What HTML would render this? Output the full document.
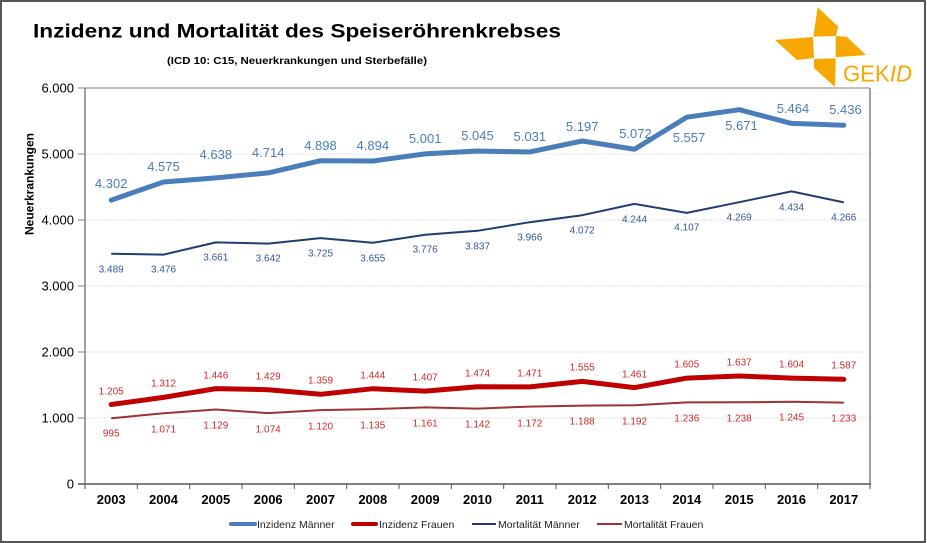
<!DOCTYPE html>
<html><head><meta charset="utf-8"><style>
html,body{margin:0;padding:0;background:#fff;}
svg{display:block;font-family:"Liberation Sans",Arial,sans-serif;}
</style></head><body>
<svg width="927" height="543" viewBox="0 0 927 543" xmlns="http://www.w3.org/2000/svg">
<rect x="0" y="0" width="927" height="543" fill="#fff"/>
<rect x="1" y="1" width="924" height="541" fill="none" stroke="#555" stroke-width="2"/>

<!-- Title -->
<text x="33" y="37.5" font-size="19.5" font-weight="bold" fill="#000" textLength="528" lengthAdjust="spacingAndGlyphs">Inzidenz und Mortalität des Speiseröhrenkrebses</text>
<text x="167" y="64" font-size="10.5" font-weight="bold" fill="#000" textLength="260" lengthAdjust="spacingAndGlyphs">(ICD 10: C15, Neuerkrankungen und Sterbefälle)</text>

<!-- Logo -->
<g fill="#f7a800">
<polygon points="817.7,7.3 838.3,26.7 835.7,36 813.3,36.7"/>
<polygon points="775,40 813,37 814,58 797,60"/>
<polygon points="835.7,36 846.7,36.7 866,55 835.7,57.3"/>
<polygon points="814,59 835.7,58.3 835,87 814,68"/>
</g>
<text x="843" y="81.7" font-size="23" fill="#f7a800" textLength="69" lengthAdjust="spacingAndGlyphs">GEK<tspan font-style="italic">ID</tspan></text>

<!-- Gridlines -->
<g stroke="#e2e2e2" stroke-width="1" stroke-dasharray="2,1">
<line x1="86" y1="154" x2="870" y2="154"/>
<line x1="86" y1="220" x2="870" y2="220"/>
<line x1="86" y1="286" x2="870" y2="286"/>
<line x1="86" y1="352" x2="870" y2="352"/>
<line x1="86" y1="418" x2="870" y2="418"/>
</g>
<!-- plot border -->
<line x1="85" y1="88" x2="870" y2="88" stroke="#808080" stroke-width="1"/>
<line x1="870" y1="88" x2="870" y2="484" stroke="#808080" stroke-width="1.5"/>
<line x1="85" y1="88" x2="85" y2="484" stroke="#808080" stroke-width="1.5"/>
<line x1="78" y1="484" x2="871" y2="484" stroke="#555" stroke-width="1.5"/>
<!-- y ticks -->
<g stroke="#808080" stroke-width="1">
<line x1="78" y1="88" x2="85" y2="88"/>
<line x1="78" y1="154" x2="85" y2="154"/>
<line x1="78" y1="220" x2="85" y2="220"/>
<line x1="78" y1="286" x2="85" y2="286"/>
<line x1="78" y1="352" x2="85" y2="352"/>
<line x1="78" y1="418" x2="85" y2="418"/>
</g>
<!-- x ticks -->
<g stroke="#555" stroke-width="1">
<line x1="85" y1="484" x2="85" y2="489"/>
<line x1="137.3" y1="484" x2="137.3" y2="489"/>
<line x1="189.7" y1="484" x2="189.7" y2="489"/>
<line x1="242" y1="484" x2="242" y2="489"/>
<line x1="294.3" y1="484" x2="294.3" y2="489"/>
<line x1="346.7" y1="484" x2="346.7" y2="489"/>
<line x1="399" y1="484" x2="399" y2="489"/>
<line x1="451.3" y1="484" x2="451.3" y2="489"/>
<line x1="503.7" y1="484" x2="503.7" y2="489"/>
<line x1="556" y1="484" x2="556" y2="489"/>
<line x1="608.3" y1="484" x2="608.3" y2="489"/>
<line x1="660.7" y1="484" x2="660.7" y2="489"/>
<line x1="713" y1="484" x2="713" y2="489"/>
<line x1="765.3" y1="484" x2="765.3" y2="489"/>
<line x1="817.7" y1="484" x2="817.7" y2="489"/>
<line x1="870" y1="484" x2="870" y2="489"/>
</g>

<!-- y labels -->
<g font-size="13" fill="#000" text-anchor="end">
<text x="74" y="92.5">6.000</text>
<text x="74" y="158.5">5.000</text>
<text x="74" y="224.5">4.000</text>
<text x="74" y="290.5">3.000</text>
<text x="74" y="356.5">2.000</text>
<text x="74" y="422.5">1.000</text>
<text x="74" y="488.5">0</text>
</g>
<text transform="translate(33.5,184) rotate(-90)" font-size="12" font-weight="bold" text-anchor="middle" fill="#000">Neuerkrankungen</text>

<!-- x labels -->
<g font-size="13" font-weight="bold" fill="#000" text-anchor="middle">
<text x="111.2" y="504">2003</text>
<text x="163.5" y="504">2004</text>
<text x="215.8" y="504">2005</text>
<text x="268.2" y="504">2006</text>
<text x="320.5" y="504">2007</text>
<text x="372.8" y="504">2008</text>
<text x="425.2" y="504">2009</text>
<text x="477.5" y="504">2010</text>
<text x="529.8" y="504">2011</text>
<text x="582.2" y="504">2012</text>
<text x="634.5" y="504">2013</text>
<text x="686.8" y="504">2014</text>
<text x="739.2" y="504">2015</text>
<text x="791.5" y="504">2016</text>
<text x="843.8" y="504">2017</text>
</g>

<!-- Series lines -->
<polyline fill="none" stroke="#4a7ebb" stroke-width="5" stroke-linejoin="round" stroke-linecap="round"
points="111.2,200.1 163.5,182.05 215.8,177.9 268.2,172.9 320.5,160.7 372.8,161 425.2,153.9 477.5,151 529.8,151.95 582.2,141 634.5,149.25 686.8,117.2 739.2,109.7 791.5,123.4 843.8,125.2"/>
<polyline fill="none" stroke="#1f3d73" stroke-width="2" stroke-linejoin="round"
points="111.2,253.7 163.5,254.6 215.8,242.4 268.2,243.6 320.5,238.1 372.8,242.8 425.2,234.8 477.5,230.8 529.8,222.2 582.2,215.2 634.5,203.9 686.8,212.9 739.2,202.2 791.5,191.4 843.8,202.4"/>
<polyline fill="none" stroke="#c00000" stroke-width="5" stroke-linejoin="round" stroke-linecap="round"
points="111.2,404.5 163.5,397.4 215.8,388.6 268.2,389.7 320.5,394.3 372.8,388.7 425.2,391.1 477.5,386.7 529.8,386.9 582.2,381.4 634.5,387.6 686.8,378.1 739.2,376 791.5,378.1 843.8,379.3"/>
<polyline fill="none" stroke="#9e3232" stroke-width="2" stroke-linejoin="round"
points="111.2,418.3 163.5,413.3 215.8,409.5 268.2,413.1 320.5,410.1 372.8,409.1 425.2,407.4 477.5,408.6 529.8,406.6 582.2,405.6 634.5,405.3 686.8,402.4 739.2,402.3 791.5,401.8 843.8,402.6"/>

<!-- Labels IM -->
<g font-size="13" fill="#4a7ebb" text-anchor="middle">
<text x="111.2" y="188">4.302</text>
<text x="163.5" y="171">4.575</text>
<text x="215.8" y="159">4.638</text>
<text x="268.2" y="157">4.714</text>
<text x="320.5" y="150">4.898</text>
<text x="372.8" y="150">4.894</text>
<text x="425.2" y="143">5.001</text>
<text x="477.5" y="140">5.045</text>
<text x="529.8" y="141">5.031</text>
<text x="582.2" y="131">5.197</text>
<text x="635.5" y="138">5.072</text>
<text x="689" y="142">5.557</text>
<text x="741.5" y="130">5.671</text>
<text x="793" y="113">5.464</text>
<text x="845.5" y="114">5.436</text>
</g>
<!-- Labels MM -->
<g font-size="10" fill="#34589a" text-anchor="middle">
<text x="111.2" y="272.5">3.489</text>
<text x="163.5" y="272.5">3.476</text>
<text x="215.8" y="260.5">3.661</text>
<text x="268.2" y="261.5">3.642</text>
<text x="320.5" y="256.5">3.725</text>
<text x="372.8" y="261.5">3.655</text>
<text x="425.2" y="252.5">3.776</text>
<text x="477.5" y="249.5">3.837</text>
<text x="529.8" y="240.5">3.966</text>
<text x="582.2" y="233.5">4.072</text>
<text x="634.5" y="222.5">4.244</text>
<text x="686.8" y="230.5">4.107</text>
<text x="739.2" y="220.5">4.269</text>
<text x="791.5" y="210.5">4.434</text>
<text x="843.8" y="220.5">4.266</text>
</g>
<!-- Labels IF -->
<g font-size="10" fill="#d02a2a" text-anchor="middle">
<text x="111.2" y="394.5">1.205</text>
<text x="163.5" y="386.5">1.312</text>
<text x="215.8" y="378.5">1.446</text>
<text x="268.2" y="379.5">1.429</text>
<text x="320.5" y="383.5">1.359</text>
<text x="372.8" y="378.5">1.444</text>
<text x="425.2" y="380.5">1.407</text>
<text x="477.5" y="376.5">1.474</text>
<text x="529.8" y="376.5">1.471</text>
<text x="582.2" y="370.5">1.555</text>
<text x="634.5" y="377.5">1.461</text>
<text x="686.8" y="367.5">1.605</text>
<text x="739.2" y="365.5">1.637</text>
<text x="791.5" y="367.5">1.604</text>
<text x="843.8" y="368.5">1.587</text>
</g>
<!-- Labels MF -->
<g font-size="10" fill="#d02a2a" text-anchor="middle">
<text x="111.2" y="436.5">995</text>
<text x="163.5" y="432.5">1.071</text>
<text x="215.8" y="428.5">1.129</text>
<text x="268.2" y="432.5">1.074</text>
<text x="320.5" y="429.5">1.120</text>
<text x="372.8" y="428.5">1.135</text>
<text x="425.2" y="426.5">1.161</text>
<text x="477.5" y="427.5">1.142</text>
<text x="529.8" y="426.5">1.172</text>
<text x="582.2" y="424.5">1.188</text>
<text x="634.5" y="424.5">1.192</text>
<text x="686.8" y="421.5">1.236</text>
<text x="739.2" y="421.5">1.238</text>
<text x="791.5" y="420.5">1.245</text>
<text x="843.8" y="421.5">1.233</text>
</g>

<!-- Legend -->
<line x1="231" y1="524" x2="255" y2="524" stroke="#4a7ebb" stroke-width="4" stroke-linecap="round"/>
<line x1="353" y1="524" x2="376" y2="524" stroke="#c00000" stroke-width="4" stroke-linecap="round"/>
<line x1="472" y1="524" x2="496" y2="524" stroke="#1f3d73" stroke-width="2"/>
<line x1="597" y1="524" x2="622" y2="524" stroke="#9e3232" stroke-width="2"/>
<g font-size="10.5" fill="#222">
<text x="257" y="528">Inzidenz Männer</text>
<text x="379" y="528">Inzidenz Frauen</text>
<text x="498" y="528">Mortalität Männer</text>
<text x="624" y="528">Mortalität Frauen</text>
</g>
</svg>
</body></html>
